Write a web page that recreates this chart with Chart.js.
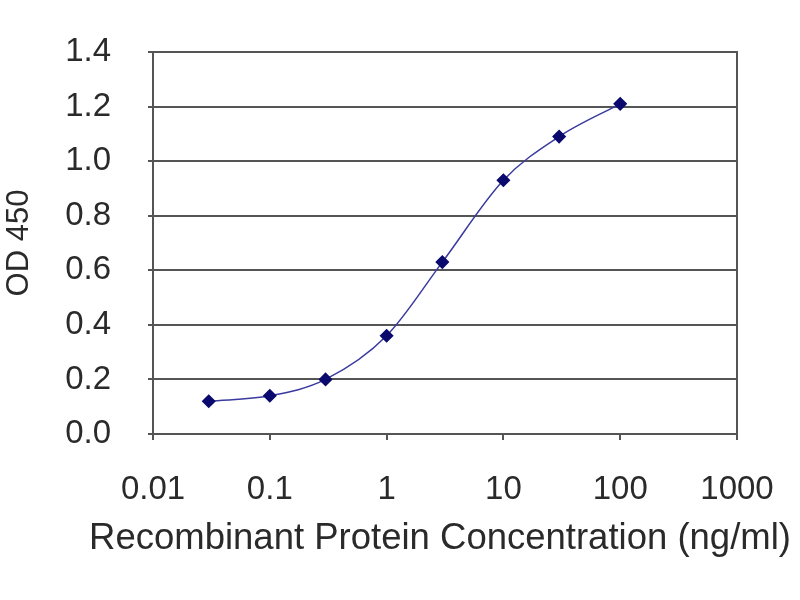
<!DOCTYPE html>
<html>
<head>
<meta charset="utf-8">
<script src="https://cdn.jsdelivr.net/npm/chart.js@4"></script>
<style>
html,body{margin:0;padding:0;background:#fff;}
#wrap{width:800px;height:600px;}
</style>
</head>
<body>
<div id="wrap"><canvas id="c" width="800" height="600"></canvas></div>
<script>
const concentrations = [0.03, 0.1, 0.3, 1, 3, 10, 30, 100];
const od450 = [0.12, 0.14, 0.20, 0.36, 0.63, 0.93, 1.09, 1.21];
const xTickValues = [0.01, 0.1, 1, 10, 100, 1000];
const xTickLabels = ['0.01', '0.1', '1', '10', '100', '1000'];
const yTickValues = [0.0, 0.2, 0.4, 0.6, 0.8, 1.0, 1.2, 1.4];
const yTickLabels = ['0.0', '0.2', '0.4', '0.6', '0.8', '1.0', '1.2', '1.4'];
const xTitle = 'Recombinant Protein Concentration (ng/ml)';
const yTitle = 'OD 450';

const points = concentrations.map((c, i) => ({x: c, y: od450[i]}));
const textColor = '#2a2a2a';
const lineGray = '#555555';
const fam = 'Arial, "Liberation Sans", sans-serif';

const frame = {
  id: 'frame',
  afterDatasetsDraw(chart) {
    const a = chart.chartArea, ctx = chart.ctx;
    ctx.save();
    ctx.strokeStyle = lineGray;
    ctx.lineWidth = 2;
    ctx.strokeRect(a.left, a.top, a.right - a.left, a.bottom - a.top);
    ctx.fillStyle = textColor;
    ctx.font = '36.5px ' + fam;
    ctx.textAlign = 'center';
    ctx.textBaseline = 'middle';
    ctx.fillText(xTitle, 440, 539);
    ctx.restore();
  }
};

new Chart(document.getElementById('c'), {
  type: 'line',
  data: {
    datasets: [{
      data: points,
      borderColor: '#3a3aa0',
      borderWidth: 1.5,
      cubicInterpolationMode: 'monotone',
      pointStyle: 'rectRot',
      pointRadius: 6,
      pointBackgroundColor: '#0a0a6e',
      pointBorderColor: '#0a0a6e',
      fill: false
    }]
  },
  options: {
    responsive: false,
    animation: false,
    devicePixelRatio: 1,
    layout: {padding: {left: 0, top: 52, right: 63, bottom: 0}},
    plugins: {legend: {display: false}, tooltip: {enabled: false}},
    scales: {
      x: {
        type: 'logarithmic',
        min: 0.01,
        max: 1000,
        afterBuildTicks(s) { s.ticks = xTickValues.map(v => ({value: v})); },
        afterFit(s) { s.height = 166; s.paddingLeft = 0; s.paddingRight = 0; },
        ticks: {
          autoSkip: false,
          maxRotation: 0,
          padding: 30,
          color: textColor,
          font: {family: fam, size: 33},
          callback(v) { const i = xTickValues.indexOf(v); return i >= 0 ? xTickLabels[i] : ''; }
        },
        grid: {drawOnChartArea: false, drawTicks: true, tickLength: 6, color: lineGray, lineWidth: 2},
        border: {display: true, color: lineGray, width: 2},
        title: {display: false}
      },
      y: {
        min: 0,
        max: 1.4,
        afterBuildTicks(s) { s.ticks = yTickValues.map(v => ({value: v})); },
        afterFit(s) { s.width = 153; s.paddingTop = 0; s.paddingBottom = 0; },
        ticks: {
          padding: 37,
          color: textColor,
          font: {family: fam, size: 33},
          callback(v) { const i = yTickValues.findIndex(t => Math.abs(t - v) < 1e-9); return i >= 0 ? yTickLabels[i] : ''; }
        },
        grid: {drawTicks: true, tickLength: 5, color: lineGray, lineWidth: 2},
        border: {display: true, color: lineGray, width: 2},
        title: {
          display: true,
          text: yTitle,
          color: textColor,
          font: {family: fam, size: 31},
          padding: {top: 1, bottom: 0}
        }
      }
    }
  },
  plugins: [frame]
});
</script>
</body>
</html>
